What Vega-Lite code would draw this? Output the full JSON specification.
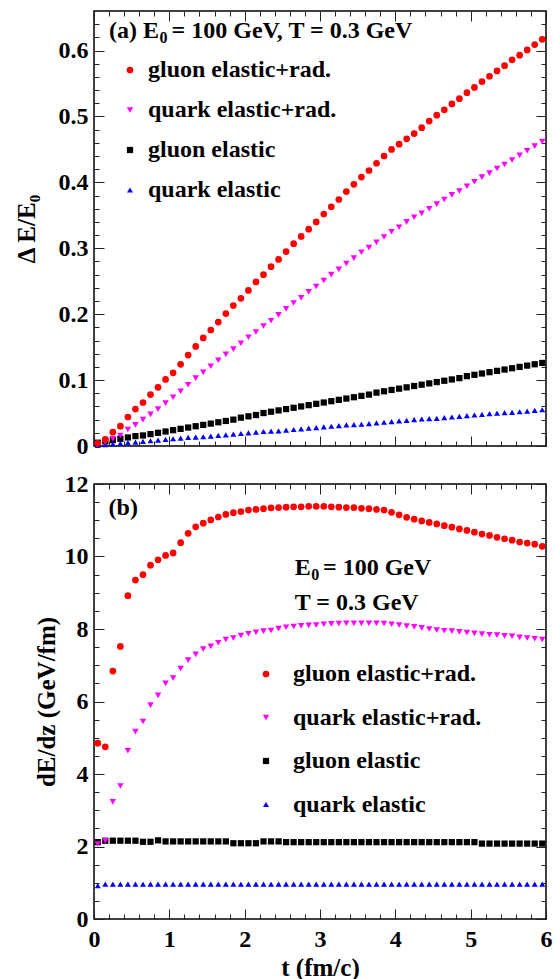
{
"$schema":"https://vega.github.io/schema/vega-lite/v6.json",
"padding":{"left":13,"top":9,"right":5,"bottom":0},
"spacing":38,
"bounds":"flush",
"resolve":{"scale":{"color":"independent","shape":"independent","size":"independent","x":"independent","y":"independent"},"legend":{"color":"independent","shape":"independent"}},
"config":{
 "font":"Liberation Serif",
 "view":{"stroke":"#000","strokeWidth":1.5},
 "axis":{"labelFont":"Liberation Serif","labelFontWeight":"bold","labelFontSize":24,"labelColor":"#000","titleFont":"Liberation Serif","titleFontWeight":"bold","titleFontSize":25,"titleColor":"#000","domain":false,"grid":false,"tickColor":"#222","tickWidth":1,"labelFlush":false,"labelOverlap":false},
 "legend":{"labelFont":"Liberation Serif","labelFontWeight":"bold","labelFontSize":24,"labelColor":"#000","labelLimit":0,"symbolStrokeWidth":0,"padding":0}
},
"datasets":{
"a":[
{"s":"gE","t":0.05,"v":0.005},{"s":"gE","t":0.15,"v":0.007},{"s":"gE","t":0.25,"v":0.009},{"s":"gE","t":0.35,"v":0.011},{"s":"gE","t":0.45,"v":0.013},{"s":"gE","t":0.55,"v":0.015},{"s":"gE","t":0.65,"v":0.016},{"s":"gE","t":0.75,"v":0.018},{"s":"gE","t":0.85,"v":0.020},{"s":"gE","t":0.95,"v":0.022},
{"s":"gE","t":1.05,"v":0.024},{"s":"gE","t":1.15,"v":0.026},{"s":"gE","t":1.25,"v":0.028},{"s":"gE","t":1.35,"v":0.030},{"s":"gE","t":1.45,"v":0.032},{"s":"gE","t":1.55,"v":0.034},{"s":"gE","t":1.65,"v":0.036},{"s":"gE","t":1.75,"v":0.038},{"s":"gE","t":1.85,"v":0.040},{"s":"gE","t":1.95,"v":0.043},
{"s":"gE","t":2.05,"v":0.045},{"s":"gE","t":2.15,"v":0.047},{"s":"gE","t":2.25,"v":0.050},{"s":"gE","t":2.35,"v":0.052},{"s":"gE","t":2.45,"v":0.054},{"s":"gE","t":2.55,"v":0.056},{"s":"gE","t":2.65,"v":0.058},{"s":"gE","t":2.75,"v":0.060},{"s":"gE","t":2.85,"v":0.062},{"s":"gE","t":2.95,"v":0.064},
{"s":"gE","t":3.05,"v":0.066},{"s":"gE","t":3.15,"v":0.068},{"s":"gE","t":3.25,"v":0.070},{"s":"gE","t":3.35,"v":0.072},{"s":"gE","t":3.45,"v":0.074},{"s":"gE","t":3.55,"v":0.076},{"s":"gE","t":3.65,"v":0.078},{"s":"gE","t":3.75,"v":0.081},{"s":"gE","t":3.85,"v":0.083},{"s":"gE","t":3.95,"v":0.085},
{"s":"gE","t":4.05,"v":0.087},{"s":"gE","t":4.15,"v":0.089},{"s":"gE","t":4.25,"v":0.091},{"s":"gE","t":4.35,"v":0.093},{"s":"gE","t":4.45,"v":0.095},{"s":"gE","t":4.55,"v":0.097},{"s":"gE","t":4.65,"v":0.099},{"s":"gE","t":4.75,"v":0.101},{"s":"gE","t":4.85,"v":0.103},{"s":"gE","t":4.95,"v":0.106},
{"s":"gE","t":5.05,"v":0.108},{"s":"gE","t":5.15,"v":0.110},{"s":"gE","t":5.25,"v":0.112},{"s":"gE","t":5.35,"v":0.114},{"s":"gE","t":5.45,"v":0.116},{"s":"gE","t":5.55,"v":0.118},{"s":"gE","t":5.65,"v":0.120},{"s":"gE","t":5.75,"v":0.122},{"s":"gE","t":5.85,"v":0.124},{"s":"gE","t":5.95,"v":0.126},
{"s":"qE","t":0.05,"v":0.001},{"s":"qE","t":0.15,"v":0.002},{"s":"qE","t":0.25,"v":0.003},{"s":"qE","t":0.35,"v":0.004},{"s":"qE","t":0.45,"v":0.005},{"s":"qE","t":0.55,"v":0.006},{"s":"qE","t":0.65,"v":0.007},{"s":"qE","t":0.75,"v":0.008},{"s":"qE","t":0.85,"v":0.009},{"s":"qE","t":0.95,"v":0.010},
{"s":"qE","t":1.05,"v":0.011},{"s":"qE","t":1.15,"v":0.012},{"s":"qE","t":1.25,"v":0.013},{"s":"qE","t":1.35,"v":0.0135},{"s":"qE","t":1.45,"v":0.014},{"s":"qE","t":1.55,"v":0.015},{"s":"qE","t":1.65,"v":0.016},{"s":"qE","t":1.75,"v":0.017},{"s":"qE","t":1.85,"v":0.018},{"s":"qE","t":1.95,"v":0.019},
{"s":"qE","t":2.05,"v":0.020},{"s":"qE","t":2.15,"v":0.021},{"s":"qE","t":2.25,"v":0.022},{"s":"qE","t":2.35,"v":0.0225},{"s":"qE","t":2.45,"v":0.023},{"s":"qE","t":2.55,"v":0.024},{"s":"qE","t":2.65,"v":0.025},{"s":"qE","t":2.75,"v":0.026},{"s":"qE","t":2.85,"v":0.027},{"s":"qE","t":2.95,"v":0.028},
{"s":"qE","t":3.05,"v":0.029},{"s":"qE","t":3.15,"v":0.030},{"s":"qE","t":3.25,"v":0.031},{"s":"qE","t":3.35,"v":0.032},{"s":"qE","t":3.45,"v":0.0325},{"s":"qE","t":3.55,"v":0.033},{"s":"qE","t":3.65,"v":0.034},{"s":"qE","t":3.75,"v":0.035},{"s":"qE","t":3.85,"v":0.036},{"s":"qE","t":3.95,"v":0.037},
{"s":"qE","t":4.05,"v":0.038},{"s":"qE","t":4.15,"v":0.039},{"s":"qE","t":4.25,"v":0.040},{"s":"qE","t":4.35,"v":0.041},{"s":"qE","t":4.45,"v":0.0415},{"s":"qE","t":4.55,"v":0.042},{"s":"qE","t":4.65,"v":0.043},{"s":"qE","t":4.75,"v":0.044},{"s":"qE","t":4.85,"v":0.045},{"s":"qE","t":4.95,"v":0.046},
{"s":"qE","t":5.05,"v":0.047},{"s":"qE","t":5.15,"v":0.048},{"s":"qE","t":5.25,"v":0.049},{"s":"qE","t":5.35,"v":0.050},{"s":"qE","t":5.45,"v":0.0505},{"s":"qE","t":5.55,"v":0.051},{"s":"qE","t":5.65,"v":0.052},{"s":"qE","t":5.75,"v":0.053},{"s":"qE","t":5.85,"v":0.054},{"s":"qE","t":5.95,"v":0.055},
{"s":"qR","t":0.05,"v":0.0035},{"s":"qR","t":0.15,"v":0.006},{"s":"qR","t":0.25,"v":0.011},{"s":"qR","t":0.35,"v":0.016},{"s":"qR","t":0.45,"v":0.025},{"s":"qR","t":0.55,"v":0.032},{"s":"qR","t":0.65,"v":0.040},{"s":"qR","t":0.75,"v":0.048},{"s":"qR","t":0.85,"v":0.056},{"s":"qR","t":0.95,"v":0.065},
{"s":"qR","t":1.05,"v":0.074},{"s":"qR","t":1.15,"v":0.083},{"s":"qR","t":1.25,"v":0.093},{"s":"qR","t":1.35,"v":0.103},{"s":"qR","t":1.45,"v":0.112},{"s":"qR","t":1.55,"v":0.121},{"s":"qR","t":1.65,"v":0.130},{"s":"qR","t":1.75,"v":0.139},{"s":"qR","t":1.85,"v":0.147},{"s":"qR","t":1.95,"v":0.156},
{"s":"qR","t":2.05,"v":0.165},{"s":"qR","t":2.15,"v":0.173},{"s":"qR","t":2.25,"v":0.182},{"s":"qR","t":2.35,"v":0.190},{"s":"qR","t":2.45,"v":0.199},{"s":"qR","t":2.55,"v":0.208},{"s":"qR","t":2.65,"v":0.217},{"s":"qR","t":2.75,"v":0.225},{"s":"qR","t":2.85,"v":0.234},{"s":"qR","t":2.95,"v":0.242},
{"s":"qR","t":3.05,"v":0.251},{"s":"qR","t":3.15,"v":0.260},{"s":"qR","t":3.25,"v":0.268},{"s":"qR","t":3.35,"v":0.277},{"s":"qR","t":3.45,"v":0.285},{"s":"qR","t":3.55,"v":0.294},{"s":"qR","t":3.65,"v":0.301},{"s":"qR","t":3.75,"v":0.309},{"s":"qR","t":3.85,"v":0.317},{"s":"qR","t":3.95,"v":0.325},
{"s":"qR","t":4.05,"v":0.332},{"s":"qR","t":4.15,"v":0.340},{"s":"qR","t":4.25,"v":0.347},{"s":"qR","t":4.35,"v":0.353},{"s":"qR","t":4.45,"v":0.360},{"s":"qR","t":4.55,"v":0.367},{"s":"qR","t":4.65,"v":0.374},{"s":"qR","t":4.75,"v":0.381},{"s":"qR","t":4.85,"v":0.387},{"s":"qR","t":4.95,"v":0.394},
{"s":"qR","t":5.05,"v":0.401},{"s":"qR","t":5.15,"v":0.408},{"s":"qR","t":5.25,"v":0.414},{"s":"qR","t":5.35,"v":0.421},{"s":"qR","t":5.45,"v":0.427},{"s":"qR","t":5.55,"v":0.434},{"s":"qR","t":5.65,"v":0.441},{"s":"qR","t":5.75,"v":0.448},{"s":"qR","t":5.85,"v":0.455},{"s":"qR","t":5.95,"v":0.462},
{"s":"gR","t":0.05,"v":0.004},{"s":"gR","t":0.15,"v":0.010},{"s":"gR","t":0.25,"v":0.021},{"s":"gR","t":0.35,"v":0.030},{"s":"gR","t":0.45,"v":0.044},{"s":"gR","t":0.55,"v":0.056},{"s":"gR","t":0.65,"v":0.066},{"s":"gR","t":0.75,"v":0.078},{"s":"gR","t":0.85,"v":0.089},{"s":"gR","t":0.95,"v":0.101},
{"s":"gR","t":1.05,"v":0.111},{"s":"gR","t":1.15,"v":0.124},{"s":"gR","t":1.25,"v":0.138},{"s":"gR","t":1.35,"v":0.151},{"s":"gR","t":1.45,"v":0.164},{"s":"gR","t":1.55,"v":0.176},{"s":"gR","t":1.65,"v":0.188},{"s":"gR","t":1.75,"v":0.201},{"s":"gR","t":1.85,"v":0.213},{"s":"gR","t":1.95,"v":0.224},
{"s":"gR","t":2.05,"v":0.236},{"s":"gR","t":2.15,"v":0.249},{"s":"gR","t":2.25,"v":0.260},{"s":"gR","t":2.35,"v":0.272},{"s":"gR","t":2.45,"v":0.283},{"s":"gR","t":2.55,"v":0.295},{"s":"gR","t":2.65,"v":0.307},{"s":"gR","t":2.75,"v":0.318},{"s":"gR","t":2.85,"v":0.329},{"s":"gR","t":2.95,"v":0.340},
{"s":"gR","t":3.05,"v":0.352},{"s":"gR","t":3.15,"v":0.363},{"s":"gR","t":3.25,"v":0.374},{"s":"gR","t":3.35,"v":0.386},{"s":"gR","t":3.45,"v":0.397},{"s":"gR","t":3.55,"v":0.408},{"s":"gR","t":3.65,"v":0.418},{"s":"gR","t":3.75,"v":0.429},{"s":"gR","t":3.85,"v":0.440},{"s":"gR","t":3.95,"v":0.450},
{"s":"gR","t":4.05,"v":0.458},{"s":"gR","t":4.15,"v":0.466},{"s":"gR","t":4.25,"v":0.474},{"s":"gR","t":4.35,"v":0.483},{"s":"gR","t":4.45,"v":0.493},{"s":"gR","t":4.55,"v":0.502},{"s":"gR","t":4.65,"v":0.510},{"s":"gR","t":4.75,"v":0.519},{"s":"gR","t":4.85,"v":0.527},{"s":"gR","t":4.95,"v":0.536},
{"s":"gR","t":5.05,"v":0.544},{"s":"gR","t":5.15,"v":0.553},{"s":"gR","t":5.25,"v":0.561},{"s":"gR","t":5.35,"v":0.569},{"s":"gR","t":5.45,"v":0.577},{"s":"gR","t":5.55,"v":0.586},{"s":"gR","t":5.65,"v":0.593},{"s":"gR","t":5.75,"v":0.601},{"s":"gR","t":5.85,"v":0.609},{"s":"gR","t":5.95,"v":0.617}
],
"b":[
{"s":"gE","t":0.05,"v":2.12},{"s":"gE","t":0.15,"v":2.16},{"s":"gE","t":0.25,"v":2.16},{"s":"gE","t":0.35,"v":2.16},{"s":"gE","t":0.45,"v":2.16},{"s":"gE","t":0.55,"v":2.16},{"s":"gE","t":0.65,"v":2.13},{"s":"gE","t":0.75,"v":2.13},{"s":"gE","t":0.85,"v":2.17},{"s":"gE","t":0.95,"v":2.14},
{"s":"gE","t":1.05,"v":2.14},{"s":"gE","t":1.15,"v":2.14},{"s":"gE","t":1.25,"v":2.14},{"s":"gE","t":1.35,"v":2.14},{"s":"gE","t":1.45,"v":2.14},{"s":"gE","t":1.55,"v":2.14},{"s":"gE","t":1.65,"v":2.14},{"s":"gE","t":1.75,"v":2.14},{"s":"gE","t":1.85,"v":2.09},{"s":"gE","t":1.95,"v":2.09},
{"s":"gE","t":2.05,"v":2.09},{"s":"gE","t":2.15,"v":2.09},{"s":"gE","t":2.25,"v":2.14},{"s":"gE","t":2.35,"v":2.14},{"s":"gE","t":2.45,"v":2.14},{"s":"gE","t":2.55,"v":2.12},{"s":"gE","t":2.65,"v":2.12},{"s":"gE","t":2.75,"v":2.12},{"s":"gE","t":2.85,"v":2.12},{"s":"gE","t":2.95,"v":2.12},
{"s":"gE","t":3.05,"v":2.12},{"s":"gE","t":3.15,"v":2.12},{"s":"gE","t":3.25,"v":2.12},{"s":"gE","t":3.35,"v":2.12},{"s":"gE","t":3.45,"v":2.12},{"s":"gE","t":3.55,"v":2.12},{"s":"gE","t":3.65,"v":2.12},{"s":"gE","t":3.75,"v":2.12},{"s":"gE","t":3.85,"v":2.12},{"s":"gE","t":3.95,"v":2.12},
{"s":"gE","t":4.05,"v":2.12},{"s":"gE","t":4.15,"v":2.12},{"s":"gE","t":4.25,"v":2.12},{"s":"gE","t":4.35,"v":2.12},{"s":"gE","t":4.45,"v":2.12},{"s":"gE","t":4.55,"v":2.12},{"s":"gE","t":4.65,"v":2.12},{"s":"gE","t":4.75,"v":2.12},{"s":"gE","t":4.85,"v":2.12},{"s":"gE","t":4.95,"v":2.12},
{"s":"gE","t":5.05,"v":2.12},{"s":"gE","t":5.15,"v":2.08},{"s":"gE","t":5.25,"v":2.08},{"s":"gE","t":5.35,"v":2.08},{"s":"gE","t":5.45,"v":2.08},{"s":"gE","t":5.55,"v":2.08},{"s":"gE","t":5.65,"v":2.08},{"s":"gE","t":5.75,"v":2.08},{"s":"gE","t":5.85,"v":2.08},{"s":"gE","t":5.95,"v":2.08},
{"s":"qE","t":0.05,"v":0.92},{"s":"qE","t":0.15,"v":0.96},{"s":"qE","t":0.25,"v":0.96},{"s":"qE","t":0.35,"v":0.96},{"s":"qE","t":0.45,"v":0.96},{"s":"qE","t":0.55,"v":0.96},{"s":"qE","t":0.65,"v":0.96},{"s":"qE","t":0.75,"v":0.96},{"s":"qE","t":0.85,"v":0.96},{"s":"qE","t":0.95,"v":0.96},
{"s":"qE","t":1.05,"v":0.96},{"s":"qE","t":1.15,"v":0.96},{"s":"qE","t":1.25,"v":0.96},{"s":"qE","t":1.35,"v":0.96},{"s":"qE","t":1.45,"v":0.96},{"s":"qE","t":1.55,"v":0.96},{"s":"qE","t":1.65,"v":0.96},{"s":"qE","t":1.75,"v":0.96},{"s":"qE","t":1.85,"v":0.96},{"s":"qE","t":1.95,"v":0.96},
{"s":"qE","t":2.05,"v":0.96},{"s":"qE","t":2.15,"v":0.96},{"s":"qE","t":2.25,"v":0.96},{"s":"qE","t":2.35,"v":0.96},{"s":"qE","t":2.45,"v":0.96},{"s":"qE","t":2.55,"v":0.96},{"s":"qE","t":2.65,"v":0.96},{"s":"qE","t":2.75,"v":0.96},{"s":"qE","t":2.85,"v":0.96},{"s":"qE","t":2.95,"v":0.96},
{"s":"qE","t":3.05,"v":0.96},{"s":"qE","t":3.15,"v":0.96},{"s":"qE","t":3.25,"v":0.96},{"s":"qE","t":3.35,"v":0.96},{"s":"qE","t":3.45,"v":0.96},{"s":"qE","t":3.55,"v":0.96},{"s":"qE","t":3.65,"v":0.96},{"s":"qE","t":3.75,"v":0.96},{"s":"qE","t":3.85,"v":0.96},{"s":"qE","t":3.95,"v":0.96},
{"s":"qE","t":4.05,"v":0.96},{"s":"qE","t":4.15,"v":0.96},{"s":"qE","t":4.25,"v":0.96},{"s":"qE","t":4.35,"v":0.96},{"s":"qE","t":4.45,"v":0.96},{"s":"qE","t":4.55,"v":0.96},{"s":"qE","t":4.65,"v":0.96},{"s":"qE","t":4.75,"v":0.96},{"s":"qE","t":4.85,"v":0.96},{"s":"qE","t":4.95,"v":0.96},
{"s":"qE","t":5.05,"v":0.96},{"s":"qE","t":5.15,"v":0.96},{"s":"qE","t":5.25,"v":0.96},{"s":"qE","t":5.35,"v":0.96},{"s":"qE","t":5.45,"v":0.96},{"s":"qE","t":5.55,"v":0.96},{"s":"qE","t":5.65,"v":0.96},{"s":"qE","t":5.75,"v":0.96},{"s":"qE","t":5.85,"v":0.96},{"s":"qE","t":5.95,"v":0.96},
{"s":"qR","t":0.05,"v":2.07},{"s":"qR","t":0.15,"v":2.16},{"s":"qR","t":0.25,"v":3.23},{"s":"qR","t":0.35,"v":3.67},{"s":"qR","t":0.45,"v":4.64},{"s":"qR","t":0.55,"v":5.17},{"s":"qR","t":0.65,"v":5.45},{"s":"qR","t":0.75,"v":5.90},{"s":"qR","t":0.85,"v":6.17},{"s":"qR","t":0.95,"v":6.50},
{"s":"qR","t":1.05,"v":6.65},{"s":"qR","t":1.15,"v":6.91},{"s":"qR","t":1.25,"v":7.14},{"s":"qR","t":1.35,"v":7.30},{"s":"qR","t":1.45,"v":7.45},{"s":"qR","t":1.55,"v":7.52},{"s":"qR","t":1.65,"v":7.62},{"s":"qR","t":1.75,"v":7.71},{"s":"qR","t":1.85,"v":7.75},{"s":"qR","t":1.95,"v":7.82},
{"s":"qR","t":2.05,"v":7.87},{"s":"qR","t":2.15,"v":7.91},{"s":"qR","t":2.25,"v":7.94},{"s":"qR","t":2.35,"v":7.96},{"s":"qR","t":2.45,"v":8.01},{"s":"qR","t":2.55,"v":8.05},{"s":"qR","t":2.65,"v":8.07},{"s":"qR","t":2.75,"v":8.09},{"s":"qR","t":2.85,"v":8.10},{"s":"qR","t":2.95,"v":8.11},
{"s":"qR","t":3.05,"v":8.13},{"s":"qR","t":3.15,"v":8.14},{"s":"qR","t":3.25,"v":8.15},{"s":"qR","t":3.35,"v":8.16},{"s":"qR","t":3.45,"v":8.16},{"s":"qR","t":3.55,"v":8.16},{"s":"qR","t":3.65,"v":8.16},{"s":"qR","t":3.75,"v":8.16},{"s":"qR","t":3.85,"v":8.15},{"s":"qR","t":3.95,"v":8.13},
{"s":"qR","t":4.05,"v":8.11},{"s":"qR","t":4.15,"v":8.08},{"s":"qR","t":4.25,"v":8.06},{"s":"qR","t":4.35,"v":8.03},{"s":"qR","t":4.45,"v":8.00},{"s":"qR","t":4.55,"v":7.97},{"s":"qR","t":4.65,"v":7.95},{"s":"qR","t":4.75,"v":7.94},{"s":"qR","t":4.85,"v":7.92},{"s":"qR","t":4.95,"v":7.90},
{"s":"qR","t":5.05,"v":7.88},{"s":"qR","t":5.15,"v":7.86},{"s":"qR","t":5.25,"v":7.84},{"s":"qR","t":5.35,"v":7.83},{"s":"qR","t":5.45,"v":7.81},{"s":"qR","t":5.55,"v":7.80},{"s":"qR","t":5.65,"v":7.77},{"s":"qR","t":5.75,"v":7.75},{"s":"qR","t":5.85,"v":7.73},{"s":"qR","t":5.95,"v":7.71},
{"s":"gR","t":0.05,"v":4.85},{"s":"gR","t":0.15,"v":4.75},{"s":"gR","t":0.25,"v":6.84},{"s":"gR","t":0.35,"v":7.52},{"s":"gR","t":0.45,"v":8.92},{"s":"gR","t":0.55,"v":9.35},{"s":"gR","t":0.65,"v":9.50},{"s":"gR","t":0.75,"v":9.76},{"s":"gR","t":0.85,"v":9.91},{"s":"gR","t":0.95,"v":10.03},
{"s":"gR","t":1.05,"v":10.10},{"s":"gR","t":1.15,"v":10.38},{"s":"gR","t":1.25,"v":10.64},{"s":"gR","t":1.35,"v":10.82},{"s":"gR","t":1.45,"v":10.92},{"s":"gR","t":1.55,"v":11.01},{"s":"gR","t":1.65,"v":11.09},{"s":"gR","t":1.75,"v":11.16},{"s":"gR","t":1.85,"v":11.21},{"s":"gR","t":1.95,"v":11.24},
{"s":"gR","t":2.05,"v":11.28},{"s":"gR","t":2.15,"v":11.30},{"s":"gR","t":2.25,"v":11.32},{"s":"gR","t":2.35,"v":11.34},{"s":"gR","t":2.45,"v":11.35},{"s":"gR","t":2.55,"v":11.36},{"s":"gR","t":2.65,"v":11.37},{"s":"gR","t":2.75,"v":11.37},{"s":"gR","t":2.85,"v":11.38},{"s":"gR","t":2.95,"v":11.38},
{"s":"gR","t":3.05,"v":11.38},{"s":"gR","t":3.15,"v":11.37},{"s":"gR","t":3.25,"v":11.36},{"s":"gR","t":3.35,"v":11.35},{"s":"gR","t":3.45,"v":11.35},{"s":"gR","t":3.55,"v":11.33},{"s":"gR","t":3.65,"v":11.32},{"s":"gR","t":3.75,"v":11.30},{"s":"gR","t":3.85,"v":11.28},{"s":"gR","t":3.95,"v":11.22},
{"s":"gR","t":4.05,"v":11.15},{"s":"gR","t":4.15,"v":11.08},{"s":"gR","t":4.25,"v":11.03},{"s":"gR","t":4.35,"v":10.98},{"s":"gR","t":4.45,"v":10.94},{"s":"gR","t":4.55,"v":10.90},{"s":"gR","t":4.65,"v":10.85},{"s":"gR","t":4.75,"v":10.81},{"s":"gR","t":4.85,"v":10.76},{"s":"gR","t":4.95,"v":10.72},
{"s":"gR","t":5.05,"v":10.67},{"s":"gR","t":5.15,"v":10.62},{"s":"gR","t":5.25,"v":10.58},{"s":"gR","t":5.35,"v":10.53},{"s":"gR","t":5.45,"v":10.49},{"s":"gR","t":5.55,"v":10.45},{"s":"gR","t":5.65,"v":10.40},{"s":"gR","t":5.75,"v":10.37},{"s":"gR","t":5.85,"v":10.34},{"s":"gR","t":5.95,"v":10.28}
]
},
"vconcat":[
{
 "width":452,"height":435,
 "data":{"name":"a"},
 "layer":[
  {
   "mark":{"type":"point","filled":true,"opacity":1},
   "encoding":{
    "x":{"field":"t","type":"quantitative","scale":{"domain":[0,6],"nice":false,"zero":false},
     "axis":{"orient":"bottom","title":null,"labels":false,"values":[0,0.2,0.4,0.6,0.8,1,1.2,1.4,1.6,1.8,2,2.2,2.4,2.6,2.8,3,3.2,3.4,3.6,3.8,4,4.2,4.4,4.6,4.8,5,5.2,5.4,5.6,5.8,6],
      "tickSize":{"condition":{"test":"abs(datum.value-round(datum.value))<0.001","value":-10},"value":-5}}},
    "y":{"field":"v","type":"quantitative","scale":{"domain":[0,0.66],"nice":false,"zero":false},
     "axis":{"orient":"left","title":"Δ E/E₀","titlePadding":19,"labelPadding":16,
      "values":[0,0.02,0.04,0.06,0.08,0.1,0.12,0.14,0.16,0.18,0.2,0.22,0.24,0.26,0.28,0.3,0.32,0.34,0.36,0.38,0.4,0.42,0.44,0.46,0.48,0.5,0.52,0.54,0.56,0.58,0.6,0.62,0.64],
      "labelExpr":"abs(datum.value*10-round(datum.value*10))<0.001 ? (datum.value==0 ? '0' : format(datum.value,'.1f')) : ''",
      "tickSize":{"condition":{"test":"abs(datum.value*10-round(datum.value*10))<0.001","value":-10},"value":-5}}},
    "color":{"field":"s","type":"nominal","scale":{"domain":["gR","qR","gE","qE"],"range":["#ff0000","#ff00ff","#000000","#0000ff"]},
     "legend":{"orient":"none","legendX":24,"legendY":47,"title":null,"symbolSize":30,"rowPadding":16,"labelOffset":6,
      "labelExpr":"datum.label=='gR' ? 'gluon elastic+rad.' : datum.label=='qR' ? 'quark elastic+rad.' : datum.label=='gE' ? 'gluon elastic' : 'quark elastic'"}},
    "shape":{"field":"s","type":"nominal","scale":{"domain":["gR","qR","gE","qE"],"range":["circle","triangle-down","square","triangle-up"]},
     "legend":{"orient":"none","legendX":24,"legendY":47,"title":null,"symbolSize":30,"rowPadding":16,"labelOffset":6,
      "labelExpr":"datum.label=='gR' ? 'gluon elastic+rad.' : datum.label=='qR' ? 'quark elastic+rad.' : datum.label=='gE' ? 'gluon elastic' : 'quark elastic'"}},
    "size":{"field":"s","type":"nominal","scale":{"domain":["gR","qR","gE","qE"],"range":[45,36,45,36]},"legend":null}
   }
  },
  {
   "mark":{"type":"point","opacity":0},
   "encoding":{
    "x":{"field":"t","type":"quantitative","axis":{"orient":"top","title":null,"labels":false,"values":[0,0.2,0.4,0.6,0.8,1,1.2,1.4,1.6,1.8,2,2.2,2.4,2.6,2.8,3,3.2,3.4,3.6,3.8,4,4.2,4.4,4.6,4.8,5,5.2,5.4,5.6,5.8,6],
      "tickSize":{"condition":{"test":"abs(datum.value-round(datum.value))<0.001","value":-10},"value":-5}}},
    "y":{"field":"v","type":"quantitative","axis":{"orient":"right","title":null,"labels":false,
      "values":[0,0.02,0.04,0.06,0.08,0.1,0.12,0.14,0.16,0.18,0.2,0.22,0.24,0.26,0.28,0.3,0.32,0.34,0.36,0.38,0.4,0.42,0.44,0.46,0.48,0.5,0.52,0.54,0.56,0.58,0.6,0.62,0.64],
      "tickSize":{"condition":{"test":"abs(datum.value*10-round(datum.value*10))<0.001","value":-10},"value":-5}}}
   }
  },
  {
   "data":{"values":[{}]},
   "mark":{"type":"text","align":"left","baseline":"alphabetic","font":"Liberation Serif","fontWeight":"bold","fontSize":24,"color":"#000"},
   "encoding":{"x":{"datum":0.2,"type":"quantitative","axis":null},"y":{"datum":0.619,"type":"quantitative","axis":null},"text":{"value":"(a) E"}}
  },
  {
   "data":{"values":[{}]},
   "mark":{"type":"text","align":"left","baseline":"alphabetic","font":"Liberation Serif","fontWeight":"bold","fontSize":16,"color":"#000"},
   "encoding":{"x":{"datum":0.87,"type":"quantitative","axis":null},"y":{"datum":0.611,"type":"quantitative","axis":null},"text":{"value":"0"}}
  },
  {
   "data":{"values":[{}]},
   "mark":{"type":"text","align":"left","baseline":"alphabetic","font":"Liberation Serif","fontWeight":"bold","fontSize":24,"color":"#000"},
   "encoding":{"x":{"datum":1.03,"type":"quantitative","axis":null},"y":{"datum":0.619,"type":"quantitative","axis":null},"text":{"value":"= 100 GeV, T = 0.3 GeV"}}
  }
 ],
 "resolve":{"axis":{"x":"independent","y":"independent"}}
},
{
 "width":452,"height":435,
 "data":{"name":"b"},
 "layer":[
  {
   "mark":{"type":"point","filled":true,"opacity":1},
   "encoding":{
    "x":{"field":"t","type":"quantitative","scale":{"domain":[0,6],"nice":false,"zero":false},
     "axis":{"orient":"bottom","title":"t (fm/c)","titlePadding":-1,"labelPadding":18,"values":[0,0.2,0.4,0.6,0.8,1,1.2,1.4,1.6,1.8,2,2.2,2.4,2.6,2.8,3,3.2,3.4,3.6,3.8,4,4.2,4.4,4.6,4.8,5,5.2,5.4,5.6,5.8,6],
      "labelExpr":"abs(datum.value-round(datum.value))<0.001 ? format(datum.value,'d') : ''",
      "tickSize":{"condition":{"test":"abs(datum.value-round(datum.value))<0.001","value":-10},"value":-5}}},
    "y":{"field":"v","type":"quantitative","scale":{"domain":[0,12],"nice":false,"zero":false},
     "axis":{"orient":"left","title":"dE/dz (GeV/fm)","titlePadding":5,"labelPadding":16,
      "values":[0,0.5,1,1.5,2,2.5,3,3.5,4,4.5,5,5.5,6,6.5,7,7.5,8,8.5,9,9.5,10,10.5,11,11.5,12],
      "labelExpr":"datum.value % 2 == 0 ? format(datum.value,'d') : ''",
      "tickSize":{"condition":{"test":"datum.value % 2 == 0","value":-10},"value":-5}}},
    "color":{"field":"s","type":"nominal","scale":{"domain":["gR","qR","gE","qE"],"range":["#ff0000","#ff00ff","#000000","#0000ff"]},
     "legend":{"orient":"none","legendX":160,"legendY":178,"title":null,"symbolSize":40,"rowPadding":19.5,"labelOffset":15,
      "labelExpr":"datum.label=='gR' ? 'gluon elastic+rad.' : datum.label=='qR' ? 'quark elastic+rad.' : datum.label=='gE' ? 'gluon elastic' : 'quark elastic'"}},
    "shape":{"field":"s","type":"nominal","scale":{"domain":["gR","qR","gE","qE"],"range":["circle","triangle-down","square","triangle-up"]},
     "legend":{"orient":"none","legendX":160,"legendY":178,"title":null,"symbolSize":40,"rowPadding":19.5,"labelOffset":15,
      "labelExpr":"datum.label=='gR' ? 'gluon elastic+rad.' : datum.label=='qR' ? 'quark elastic+rad.' : datum.label=='gE' ? 'gluon elastic' : 'quark elastic'"}},
    "size":{"field":"s","type":"nominal","scale":{"domain":["gR","qR","gE","qE"],"range":[45,36,45,36]},"legend":null}
   }
  },
  {
   "mark":{"type":"point","opacity":0},
   "encoding":{
    "x":{"field":"t","type":"quantitative","axis":{"orient":"top","title":null,"labels":false,"values":[0,0.2,0.4,0.6,0.8,1,1.2,1.4,1.6,1.8,2,2.2,2.4,2.6,2.8,3,3.2,3.4,3.6,3.8,4,4.2,4.4,4.6,4.8,5,5.2,5.4,5.6,5.8,6],
      "tickSize":{"condition":{"test":"abs(datum.value-round(datum.value))<0.001","value":-10},"value":-5}}},
    "y":{"field":"v","type":"quantitative","axis":{"orient":"right","title":null,"labels":false,
      "values":[0,0.5,1,1.5,2,2.5,3,3.5,4,4.5,5,5.5,6,6.5,7,7.5,8,8.5,9,9.5,10,10.5,11,11.5,12],
      "tickSize":{"condition":{"test":"datum.value % 2 == 0","value":-10},"value":-5}}}
   }
  },
  {
   "data":{"values":[{}]},
   "mark":{"type":"text","align":"left","baseline":"alphabetic","font":"Liberation Serif","fontWeight":"bold","fontSize":24,"color":"#000"},
   "encoding":{"x":{"datum":0.193,"type":"quantitative","axis":null},"y":{"datum":11.15,"type":"quantitative","axis":null},"text":{"value":"(b)"}}
  },
  {
   "data":{"values":[{}]},
   "mark":{"type":"text","align":"left","baseline":"alphabetic","font":"Liberation Serif","fontWeight":"bold","fontSize":24,"color":"#000"},
   "encoding":{"x":{"datum":2.665,"type":"quantitative","axis":null},"y":{"datum":9.5,"type":"quantitative","axis":null},"text":{"value":"E"}}
  },
  {
   "data":{"values":[{}]},
   "mark":{"type":"text","align":"left","baseline":"alphabetic","font":"Liberation Serif","fontWeight":"bold","fontSize":16,"color":"#000"},
   "encoding":{"x":{"datum":2.883,"type":"quantitative","axis":null},"y":{"datum":9.36,"type":"quantitative","axis":null},"text":{"value":"0"}}
  },
  {
   "data":{"values":[{}]},
   "mark":{"type":"text","align":"left","baseline":"alphabetic","font":"Liberation Serif","fontWeight":"bold","fontSize":24,"color":"#000"},
   "encoding":{"x":{"datum":3.04,"type":"quantitative","axis":null},"y":{"datum":9.5,"type":"quantitative","axis":null},"text":{"value":"= 100 GeV"}}
  },
  {
   "data":{"values":[{}]},
   "mark":{"type":"text","align":"left","baseline":"alphabetic","font":"Liberation Serif","fontWeight":"bold","fontSize":24,"color":"#000"},
   "encoding":{"x":{"datum":2.665,"type":"quantitative","axis":null},"y":{"datum":8.53,"type":"quantitative","axis":null},"text":{"value":"T = 0.3 GeV"}}
  }
 ],
 "resolve":{"axis":{"x":"independent","y":"independent"}}
}
]
}
